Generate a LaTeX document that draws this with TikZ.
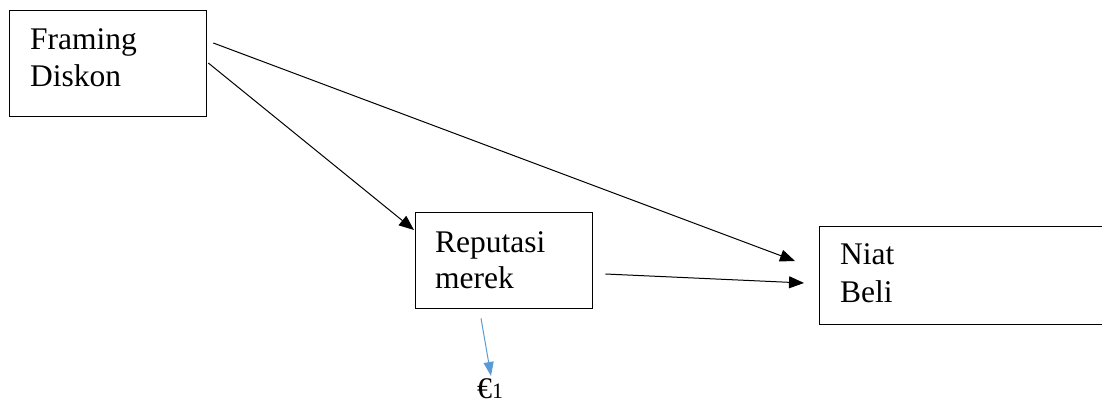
\documentclass[tikz,border=0pt]{standalone}
\usepackage{fontspec}
\setmainfont{Liberation Serif}
\newfontfamily\tnr{Liberation Serif}
\usetikzlibrary{arrows.meta,calc}
\definecolor{eblue}{RGB}{91,155,213}
\tikzset{
  box/.style={draw=black, line width=1.3pt, rectangle, inner sep=0pt, anchor=north west},
  lbl/.style={inner sep=0pt, anchor=base west, font=\tnr\fontsize{31.5}{37}\selectfont},
  conn/.style={draw=black, line width=1pt, -{Triangle[length=15pt,width=12pt]}},
  bconn/.style={draw=eblue, line width=1pt, -{Triangle[length=14pt,width=10pt]}}
}
\begin{document}
\begin{tikzpicture}[x=1pt,y=-1pt]
\clip (0,0) rectangle (1102,403);
\fill[white] (0,0) rectangle (1102,403);
% boxes
\node[box, minimum width=197pt, minimum height=106pt] (fd) at (9,10) {};
\node[box, minimum width=177pt, minimum height=96pt] (rm) at (415,212) {};
\node[box, minimum width=300pt, minimum height=98pt] (nb) at (819,226) {};
% labels
\node[lbl] (fd1) at (30,50) {Framing};
\node[lbl] (fd2) at (30,87) {Diskon};
\node[lbl] (rm1) at (435,252) {Reputasi};
\node[lbl] (rm2) at (435,288) {merek};
\node[lbl] (nb1) at (840,265) {Niat};
\node[lbl] (nb2) at (840,302) {Beli};
\node[inner sep=0pt, anchor=base west] (eps) at (477,398) {\tnr\fontsize{30}{32}\selectfont €\fontsize{22}{24}\selectfont 1};
% connector end points
\coordinate (a1s) at ($(fd.north east)+(6,33)$);
\coordinate (a1e) at ($(nb.north west)+(-24,35)$);
\coordinate (a2s) at ($(fd.north east)+(1,53)$);
\coordinate (a2e) at ($(rm.north west)+(-1,18)$);
\coordinate (a3s) at ($(rm.north east)+(12,62)$);
\coordinate (a3e) at ($(nb.north west)+(-15,57)$);
\coordinate (a4s) at ($(rm.south west)+(66,9)$);
\coordinate (a4e) at (491,376);
% connectors
\draw[conn] (a1s) -- (a1e);
\draw[conn] (a2s) -- (a2e);
\draw[conn] (a3s) -- (a3e);
\draw[bconn] (a4s) -- (a4e);
\end{tikzpicture}
\end{document}
